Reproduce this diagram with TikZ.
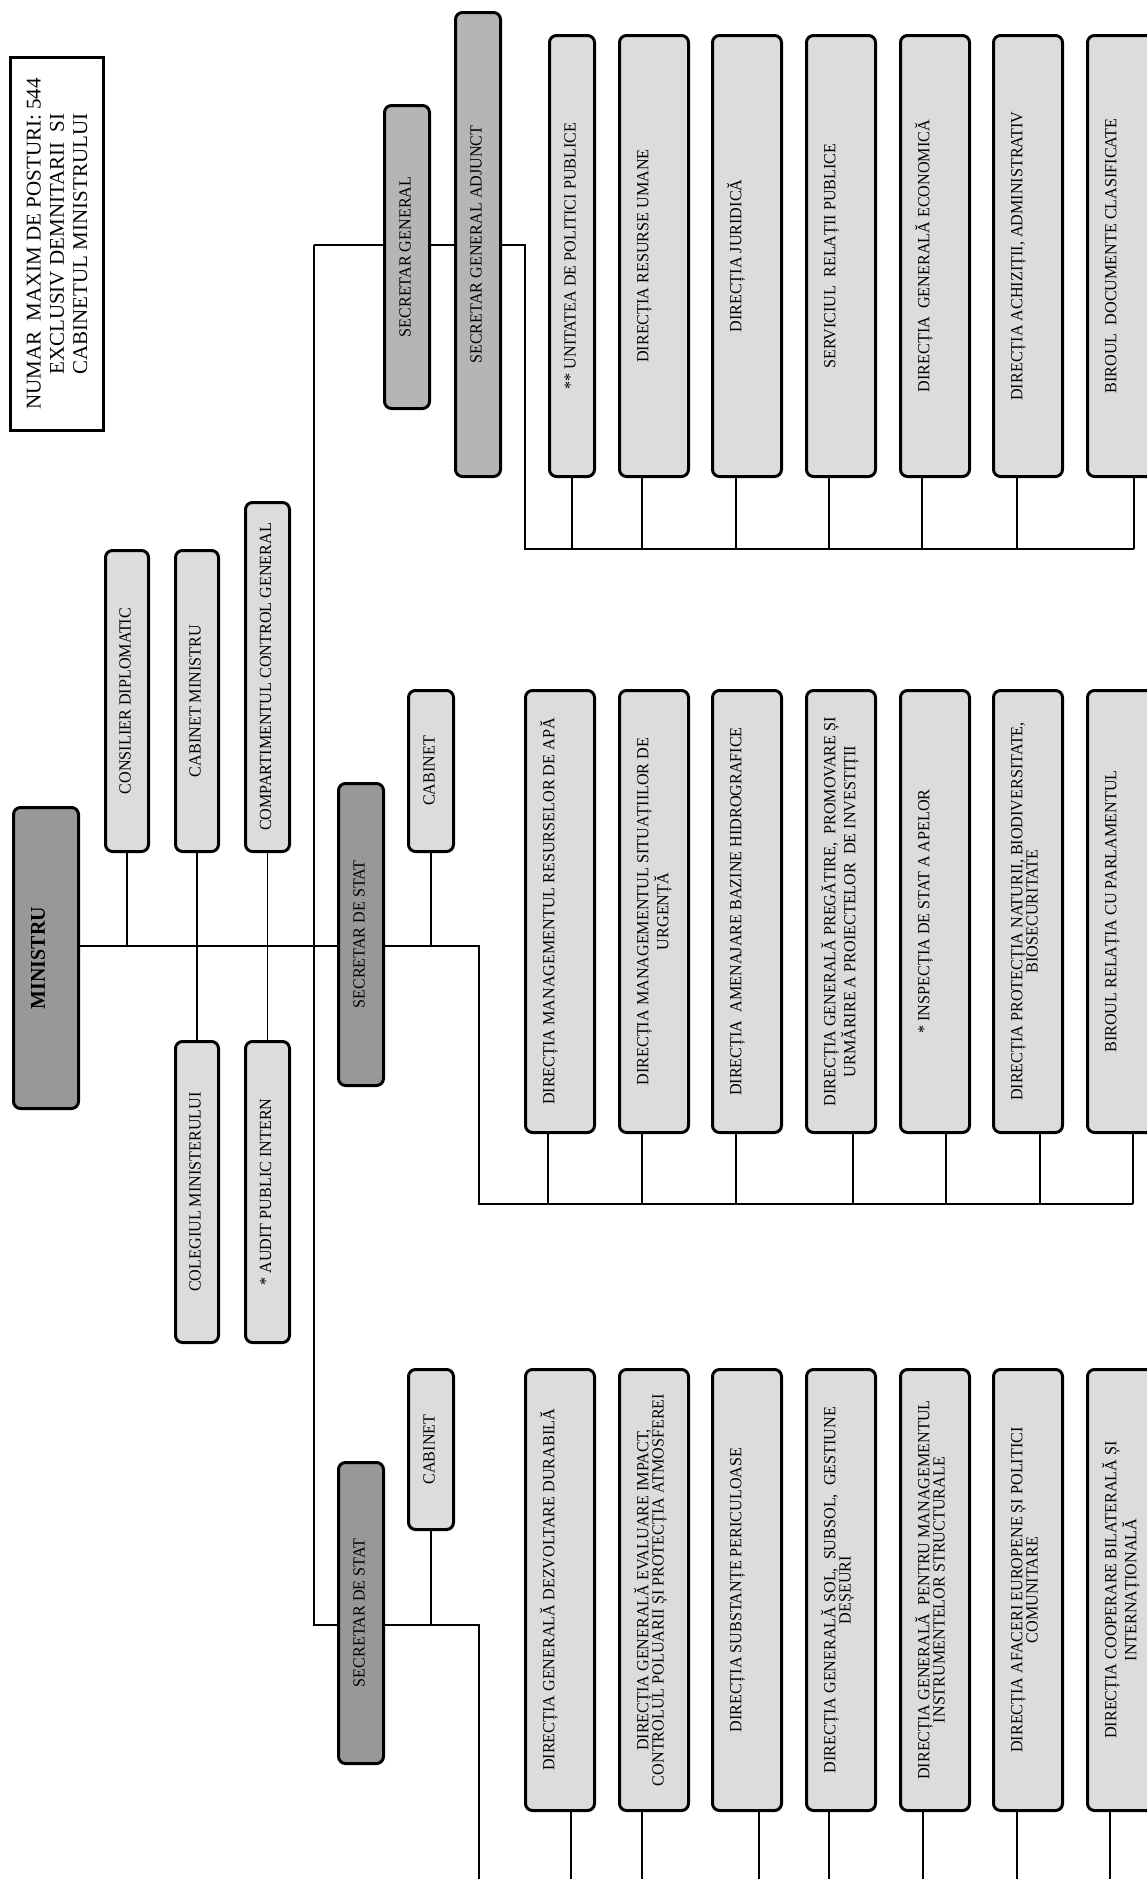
\documentclass[tikz,border=0pt]{standalone}
\usepackage{fontspec}
\setmainfont{Liberation Serif}
\newfontfamily\cond{Liberation Serif}[FakeStretch=0.95]
\usetikzlibrary{calc}
\pgfdeclarelayer{bg}
\pgfsetlayers{bg,main}
\definecolor{lg}{RGB}{220,220,220}
\definecolor{mg}{RGB}{181,181,181}
\definecolor{dg}{RGB}{152,152,152}
\tikzset{
  unitbox/.style={draw=black, line width=1.5pt, rounded corners=3.5pt, inner sep=0pt, outer sep=0pt},
  lbox/.style={unitbox, fill=lg},
  mbox/.style={unitbox, fill=mg},
  dbox/.style={unitbox, fill=dg},
  notebox/.style={draw=black, line width=1.5pt, fill=white, inner sep=0pt, outer sep=0pt},
  lbl/.style={rotate=90, inner sep=0pt, align=center, font=\cond\fontsize{8.5}{7.6}\selectfont},
  conn/.style={line width=0.75pt, black},
}
% name, style, x1, y1, x2, y2 (pixels, y downward)
\newcommand\ubox[6]{\node[#2, minimum width={(#5-#3)*0.5pt-1.5pt}, minimum height={(#6-#4)*0.5pt-1.5pt}] (#1) at ({(#3+#5)/2},{(#4+#6)/2}) {};}
\newcommand\ttext[2]{\node[lbl, anchor=north] (#1t) at ([xshift=5.25pt]#1.west) {\rule{0pt}{9pt}#2};}
\newcommand\ctext[2]{\node[lbl] (#1t) at ([xshift=-1pt]#1.center) {#2};}
\newcommand\tick[3]{\draw[conn] ([xshift=#2]#1.south) coordinate (#1k) -- (#1k |- #3);}
\begin{document}
\begin{tikzpicture}[x=0.5pt, y=-0.5pt]
\useasboundingbox (0,0) rectangle (1146,1879);
% note
\node[notebox, minimum width={96*0.5pt-1.5pt}, minimum height={376*0.5pt-1.5pt}] (note) at (57,244) {};
\node[rotate=90, align=center, inner sep=0pt, font=\fontsize{10.5}{11.6}\selectfont] (notet) at (note.center)
  {NUMAR\ \ MAXIM DE POSTURI: 544\\EXCLUSIV DEMNITARII\ \ SI\\CABINETUL MINISTRULUI};
% ministru group
\ubox{min}{dbox}{12}{806}{80}{1110}
\node[lbl, font=\cond\bfseries\fontsize{10.5}{12}\selectfont] (mint) at ([xshift=-4pt]min.center) {MINISTRU};
\ubox{cons}{lbox}{104}{549}{150}{853}\ctext{cons}{CONSILIER DIPLOMATIC}
\ubox{cabm}{lbox}{174}{549}{220}{853}\ctext{cabm}{CABINET MINISTRU}
\ubox{comp}{lbox}{244}{501}{291}{853}\ctext{comp}{COMPARTIMENTUL CONTROL GENERAL}
\ubox{coleg}{lbox}{174}{1040}{220}{1344}\ctext{coleg}{COLEGIUL MINISTERULUI}
\ubox{audit}{lbox}{244}{1040}{291}{1344}\ctext{audit}{* AUDIT PUBLIC INTERN}
% secretar general
\ubox{sg}{mbox}{383}{104}{431}{410}\ctext{sg}{SECRETAR GENERAL}
\ubox{sga}{mbox}{454}{11}{502}{478}\ctext{sga}{SECRETAR GENERAL ADJUNCT}
\ubox{s1}{lbox}{548}{34}{596}{478}\ctext{s1}{** UNITATEA DE POLITICI PUBLICE}
\ubox{s2}{lbox}{618}{34}{690}{478}\ttext{s2}{DIRECȚIA RESURSE UMANE}
\ubox{s3}{lbox}{711}{34}{783}{478}\ttext{s3}{DIRECȚIA JURIDICĂ}
\ubox{s4}{lbox}{805}{34}{877}{478}\ttext{s4}{SERVICIUL\ \ RELAȚII PUBLICE}
\ubox{s5}{lbox}{899}{34}{971}{478}\ttext{s5}{DIRECȚIA\ \ GENERALĂ ECONOMICĂ}
\ubox{s6}{lbox}{992}{34}{1064}{478}\ttext{s6}{DIRECȚIA ACHIZIȚII, ADMINISTRATIV}
\ubox{s7}{lbox}{1086}{34}{1158}{478}\ttext{s7}{BIROUL\ \ DOCUMENTE CLASIFICATE}
% secretar de stat (middle)
\ubox{sdsA}{dbox}{337}{782}{385}{1087}\ctext{sdsA}{SECRETAR DE STAT}
\ubox{cabA}{lbox}{407}{689}{455}{853}\ctext{cabA}{CABINET}
\ubox{m1}{lbox}{524}{689}{596}{1134}\ttext{m1}{DIRECȚIA MANAGEMENTUL RESURSELOR DE APĂ}
\ubox{m2}{lbox}{618}{689}{690}{1134}\ttext{m2}{DIRECȚIA MANAGEMENTUL SITUAȚIILOR DE\\URGENȚĂ}
\ubox{m3}{lbox}{711}{689}{783}{1134}\ttext{m3}{DIRECȚIA\ \ AMENAJARE BAZINE HIDROGRAFICE}
\ubox{m4}{lbox}{805}{689}{877}{1134}\ttext{m4}{DIRECȚIA GENERALĂ PREGĂTIRE,\ \ PROMOVARE ȘI\\URMĂRIRE A PROIECTELOR\ \ DE INVESTIȚII}
\ubox{m5}{lbox}{899}{689}{971}{1134}\ttext{m5}{* INSPECȚIA DE STAT A APELOR}
\ubox{m6}{lbox}{992}{689}{1064}{1134}\ttext{m6}{DIRECȚIA PROTECȚIA NATURII, BIODIVERSITATE,\\BIOSECURITATE}
\ubox{m7}{lbox}{1086}{689}{1158}{1134}\ttext{m7}{BIROUL RELAȚIA CU PARLAMENTUL}
% secretar de stat (bottom)
\ubox{sdsB}{dbox}{337}{1461}{385}{1765}\ctext{sdsB}{SECRETAR DE STAT}
\ubox{cabB}{lbox}{407}{1368}{455}{1531}\ctext{cabB}{CABINET}
\ubox{b1}{lbox}{524}{1368}{596}{1812}\ttext{b1}{DIRECȚIA GENERALĂ DEZVOLTARE DURABILĂ}
\ubox{b2}{lbox}{618}{1368}{690}{1812}\ttext{b2}{DIRECȚIA GENERALĂ EVALUARE IMPACT,\\CONTROLUL POLUARII ȘI PROTECȚIA ATMOSFEREI}
\ubox{b3}{lbox}{711}{1368}{783}{1812}\ttext{b3}{DIRECȚIA SUBSTANȚE PERICULOASE}
\ubox{b4}{lbox}{805}{1368}{877}{1812}\ttext{b4}{DIRECȚIA GENERALĂ SOL,\ \ SUBSOL,\ \ GESTIUNE\\DEȘEURI}
\ubox{b5}{lbox}{899}{1368}{971}{1812}\ttext{b5}{DIRECȚIA GENERALĂ\ \ PENTRU MANAGEMENTUL\\INSTRUMENTELOR STRUCTURALE}
\ubox{b6}{lbox}{992}{1368}{1064}{1812}\ttext{b6}{DIRECȚIA AFACERI EUROPENE ȘI POLITICI\\COMUNITARE}
\ubox{b7}{lbox}{1086}{1368}{1158}{1812}\ttext{b7}{DIRECȚIA COOPERARE BILATERALĂ ȘI\\INTERNAȚIONALĂ}
% connectors
\begin{pgfonlayer}{bg}
\coordinate (jA) at (479,946);
\coordinate (busM) at (479,1204);
\coordinate (jS) at (314,245);
\coordinate (jSR) at (525,245);
\coordinate (busS) at (525,549);
\coordinate (jB) at (314,1625);
\coordinate (jBR) at (479,1625);
\coordinate (pb) at (479,1879);
\tick{s1}{0pt}{busS}\tick{s2}{-6pt}{busS}\tick{s3}{-5.5pt}{busS}\tick{s4}{-6pt}{busS}
\tick{s5}{-6.5pt}{busS}\tick{s6}{-5.5pt}{busS}\tick{s7}{6pt}{busS}
\tick{m1}{-6pt}{busM}\tick{m2}{-6pt}{busM}\tick{m3}{-5.5pt}{busM}\tick{m4}{6pt}{busM}
\tick{m5}{5.5pt}{busM}\tick{m6}{6pt}{busM}\tick{m7}{5.5pt}{busM}
\tick{b1}{5.5pt}{pb}\tick{b2}{-6pt}{pb}\tick{b3}{6pt}{pb}\tick{b4}{-6pt}{pb}
\tick{b5}{-6pt}{pb}\tick{b6}{-5.5pt}{pb}\tick{b7}{-6pt}{pb}
\draw[conn] (min.east |- jA) -- (jA) -- (busM) -- (m7k |- busM);
\draw[conn] (jS) -- (jSR) -- (busS) -- (s7k |- busS);
\draw[conn] (jS) -- (jB) -- (jBR) -- (pb);
\draw[conn] (cons.south) -- (cons.south |- jA);
\draw[conn] (cabm.south) -- (coleg.north);
\draw[conn] (comp.south) -- (audit.north);
\draw[conn] (cabA.south) -- (cabA.south |- jA);
\draw[conn] (cabB.south) -- (cabB.south |- jB);
\end{pgfonlayer}
\end{tikzpicture}
\end{document}
